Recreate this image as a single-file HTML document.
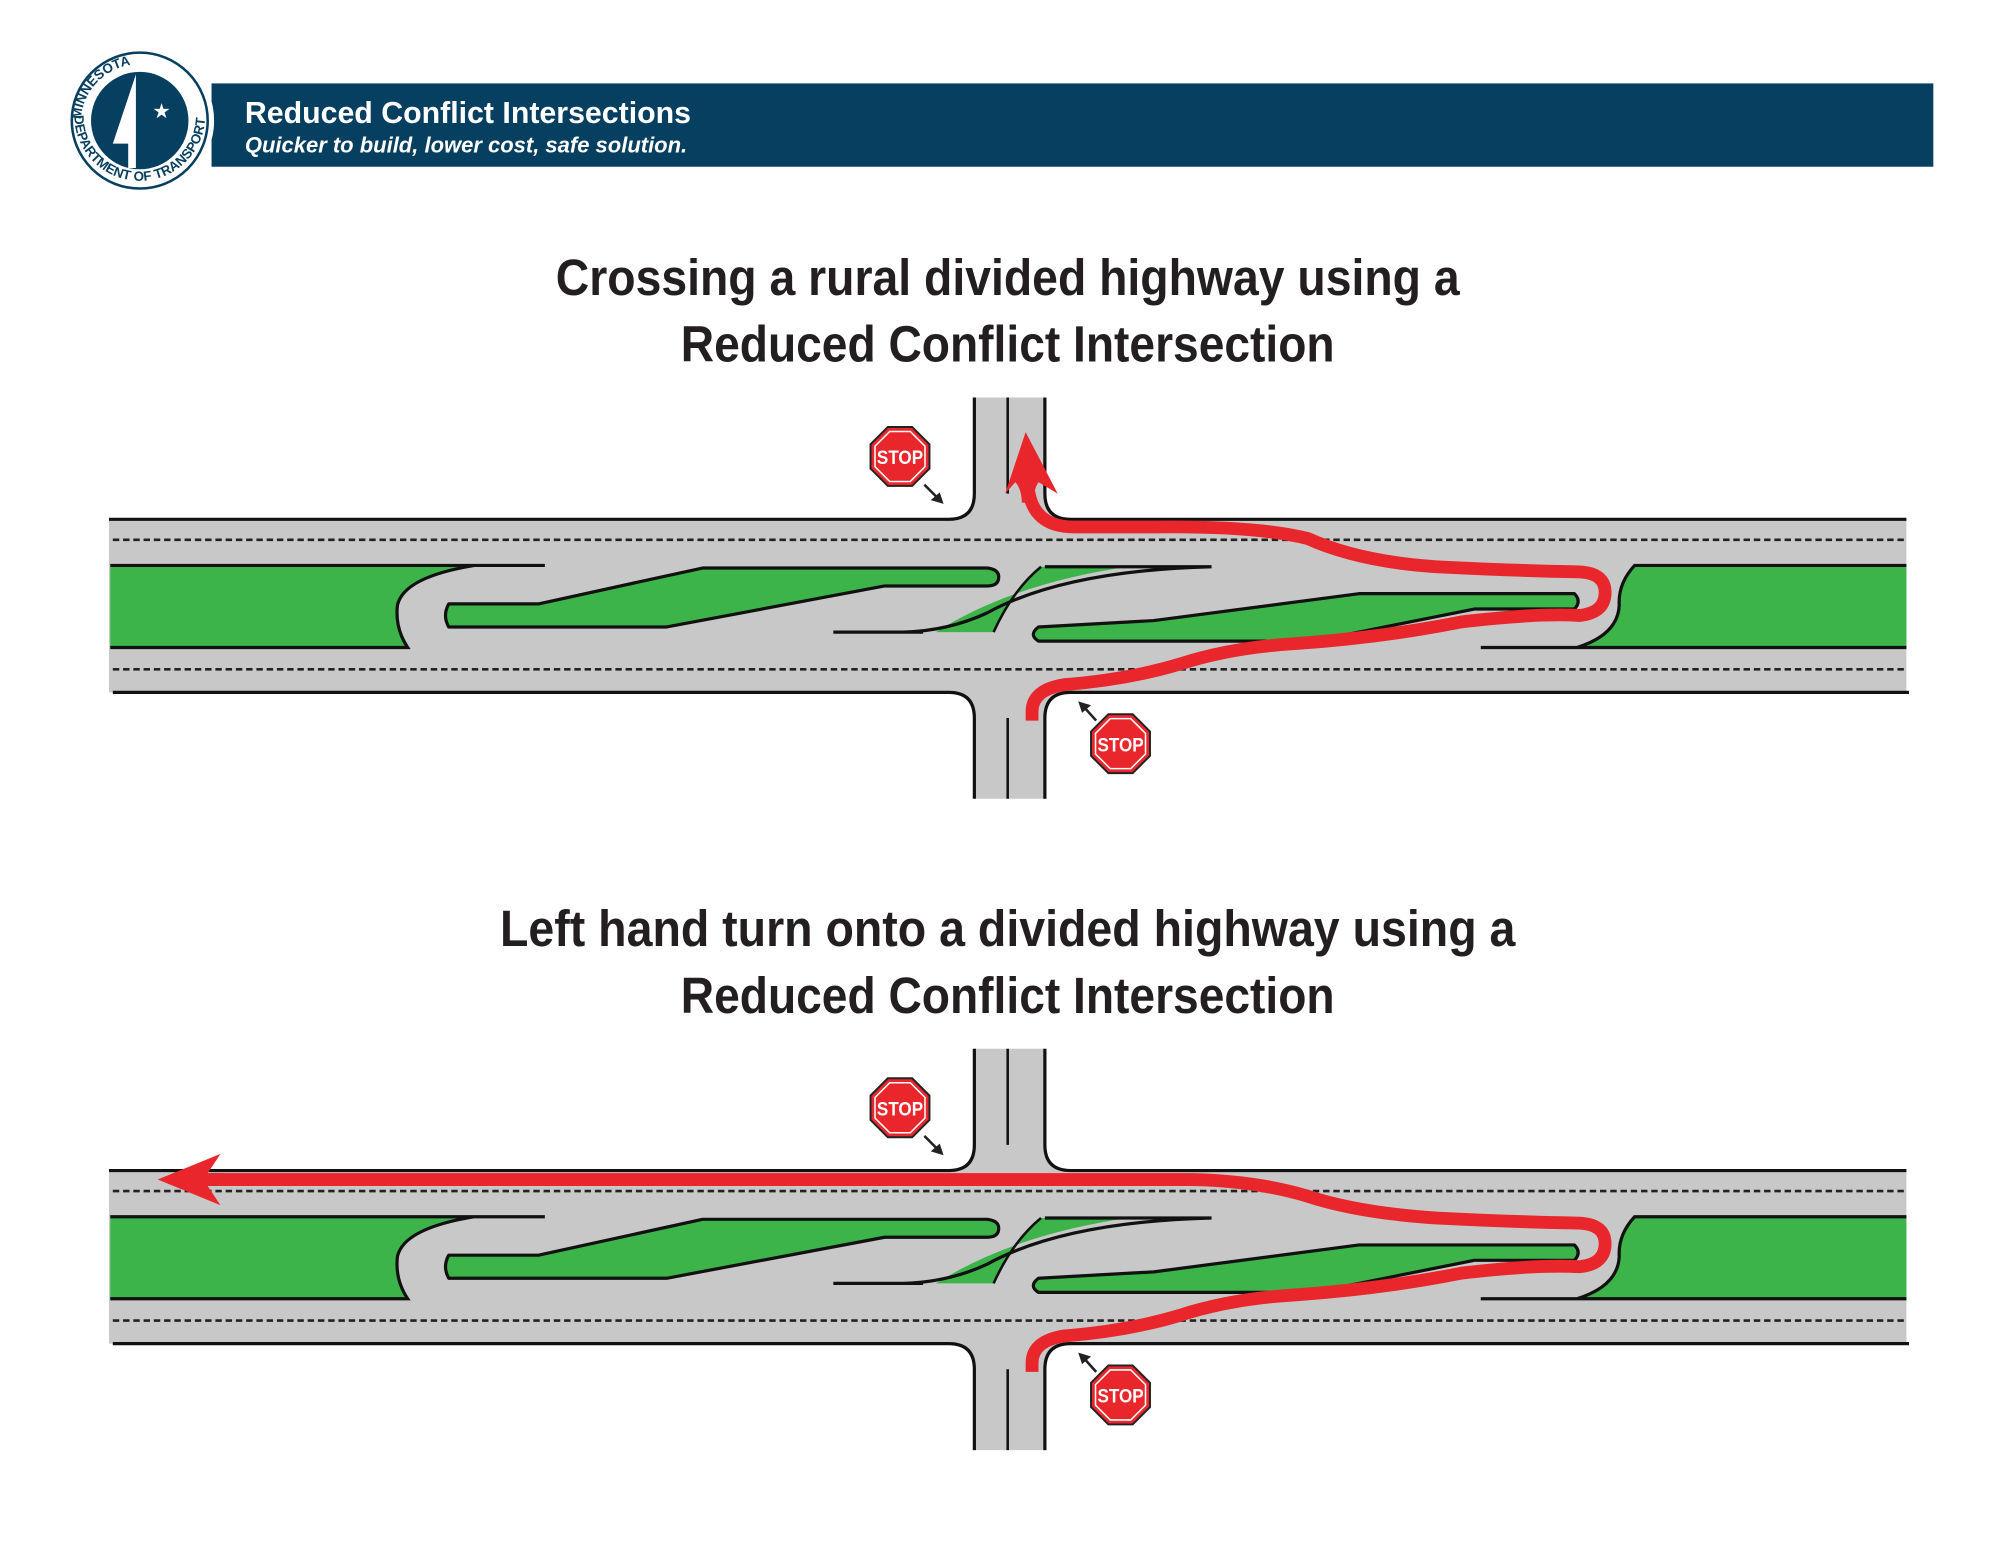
<!DOCTYPE html>
<html><head><meta charset="utf-8"><style>
html,body{margin:0;padding:0;background:#fff}
svg{display:block}
</style></head><body>
<svg width="2000" height="1545" viewBox="0 0 1560 1205" xmlns="http://www.w3.org/2000/svg" font-family="Liberation Sans, sans-serif">
<defs>
<path id="ringtop" d="M 63 96 A 46 46 0 0 1 155 96"/>
<path id="ringbot" d="M 58 90 A 51 51 0 0 0 160 90"/>
<g id="diagram">
  <!-- main road -->
  <rect x="85" y="405" width="1402" height="135" fill="#c8c8c8"/>
  <!-- cross road -->
  <path d="M760 310 L815 310 L815 385 Q815 405 835 405 L835 540 Q815 540 815 560 L815 623 L760 623 L760 560 Q760 540 740 540 L740 405 Q760 405 760 385 Z" fill="#c8c8c8"/>
  <!-- edges -->
  <path d="M85 405 L740 405 Q760 405 760 385 L760 310" fill="none" stroke="#111" stroke-width="2.5"/>
  <path d="M815 310 L815 385 Q815 405 835 405 L1487 405" fill="none" stroke="#111" stroke-width="2.5"/>
  <path d="M88 540 L740 540 Q760 540 760 560 L760 623" fill="none" stroke="#111" stroke-width="2.5"/>
  <path d="M815 623 L815 560 Q815 540 835 540 L1489 540" fill="none" stroke="#111" stroke-width="2.5"/>
  <line x1="786" y1="310" x2="786" y2="385" stroke="#111" stroke-width="2"/>
  <line x1="786" y1="560" x2="786" y2="623" stroke="#111" stroke-width="2"/>
  <!-- dashed -->
  <line x1="88" y1="421" x2="1487" y2="421" stroke="#222" stroke-width="2" stroke-dasharray="5 3"/>
  <line x1="88" y1="522" x2="1487" y2="522" stroke="#222" stroke-width="2" stroke-dasharray="5 3"/>
  <!-- left median -->
  <path d="M86 442 L370 442 Q315 450 310 472 Q308 490 318 505 L86 505 Z" fill="#3db44a"/>
  <path d="M86 441 L425 441 M370 441 Q315 450 310 472 Q308 490 318 505 L86 505" fill="none" stroke="#111" stroke-width="2.5"/>
  <!-- right median -->
  <path d="M1487 442 L1275 442 Q1262 455 1263 472 Q1262 495 1230 505 L1487 505 Z" fill="#3db44a"/>
  <path d="M1487 441 L1275 441 Q1262 455 1263 472 Q1262 495 1230 505 M1155 505 L1487 505" fill="none" stroke="#111" stroke-width="2.5"/>
  <!-- left island -->
  <path d="M350 471 L420 471 L548 443 L770 443 Q779 444 779 450 Q779 457 770 457 L690 457 L520 489 L350 489 Q345 480 350 471 Z" fill="#3db44a" stroke="#111" stroke-width="2.5" stroke-linejoin="round"/>
  <!-- center island -->
  <path d="M812 442 L880 442 Q790 455 730 493 L775 493 Q790 460 812 442 Z" fill="#3db44a"/>
  <path d="M815 442 L945 442 Q830 445 770 478 Q740 492 705 493 M650 493 L720 493" fill="none" stroke="#111" stroke-width="2.5"/>
  <path d="M775 493 Q790 460 812 442" fill="none" stroke="#111" stroke-width="2"/>
  <!-- right island -->
  <path d="M810 489 L900 484 L1060 463 L1228 463 Q1234 469 1228 475 L1150 475 L1025 500 L810 500 Q802 495 810 489 Z" fill="#3db44a" stroke="#111" stroke-width="2.5" stroke-linejoin="round"/>
  <!-- stop signs -->
  <g transform="translate(702,356)">
    <polygon points="-9.5,-23 9.5,-23 23,-9.5 23,9.5 9.5,23 -9.5,23 -23,9.5 -23,-9.5" fill="#e8262b" stroke="#222" stroke-width="1.5"/>
    <polygon points="-8,-19.5 8,-19.5 19.5,-8 19.5,8 8,19.5 -8,19.5 -19.5,8 -19.5,-8" fill="none" stroke="#fff" stroke-width="1.2"/>
    <text x="0" y="6" text-anchor="middle" font-size="15" font-weight="bold" fill="#fff" textLength="36" lengthAdjust="spacingAndGlyphs">STOP</text>
  </g>
  <g transform="translate(874,580)">
    <polygon points="-9.5,-23 9.5,-23 23,-9.5 23,9.5 9.5,23 -9.5,23 -23,9.5 -23,-9.5" fill="#e8262b" stroke="#222" stroke-width="1.5"/>
    <polygon points="-8,-19.5 8,-19.5 19.5,-8 19.5,8 8,19.5 -8,19.5 -19.5,8 -19.5,-8" fill="none" stroke="#fff" stroke-width="1.2"/>
    <text x="0" y="6" text-anchor="middle" font-size="15" font-weight="bold" fill="#fff" textLength="36" lengthAdjust="spacingAndGlyphs">STOP</text>
  </g>
  <line x1="721" y1="378" x2="731" y2="388" stroke="#222" stroke-width="2"/>
  <polygon points="736,393 726,390 733,384" fill="#222"/>
  <line x1="855" y1="562" x2="846" y2="552" stroke="#222" stroke-width="2"/>
  <polygon points="841,547 851,550 844,556" fill="#222"/>
</g>
</defs>

<!-- header -->
<rect x="165" y="65" width="1343" height="65" fill="#063f5f"/>
<circle cx="109" cy="94" r="58" fill="#fff"/>
<circle cx="109" cy="94" r="38" fill="#063f5f"/>
<circle cx="109" cy="94" r="53" fill="none" stroke="#063f5f" stroke-width="2"/>
<path d="M106 58 L106 131 L100 131 L100 112 L88 112 Z" fill="#fff"/>
<text x="126" y="92" text-anchor="middle" font-size="16" fill="#fff">★</text>
<text font-size="10.5" font-weight="bold" fill="#063f5f"><textPath href="#ringtop" startOffset="2%">MINNESOTA</textPath></text>
<text font-size="10.5" font-weight="bold" fill="#063f5f"><textPath href="#ringbot" startOffset="0%">DEPARTMENT OF TRANSPORTATION</textPath></text>
<text x="191" y="96" font-size="24" font-weight="bold" fill="#fff" textLength="348" lengthAdjust="spacingAndGlyphs">Reduced Conflict Intersections</text>
<text x="191" y="119" font-size="17" font-weight="bold" font-style="italic" fill="#fff" textLength="345" lengthAdjust="spacingAndGlyphs">Quicker to build, lower cost, safe solution.</text>

<!-- titles -->
<g font-size="40" font-weight="bold" fill="#231f20" text-anchor="middle">
<text x="786" y="230" textLength="705" lengthAdjust="spacingAndGlyphs">Crossing a rural divided highway using a</text>
<text x="786" y="282" textLength="510" lengthAdjust="spacingAndGlyphs">Reduced Conflict Intersection</text>
<text x="786" y="738" textLength="792" lengthAdjust="spacingAndGlyphs">Left hand turn onto a divided highway using a</text>
<text x="786" y="790" textLength="510" lengthAdjust="spacingAndGlyphs">Reduced Conflict Intersection</text>
</g>

<!-- diagram 1 -->
<use href="#diagram"/>
<path d="M805 562 L805 555 Q805 538 830 534 Q880 530 920 518 Q960 505 1010 502 Q1080 497 1140 485 Q1200 478 1232 480 Q1252 478 1252 462 Q1252 447 1232 446 Q1180 445 1120 442 Q1060 438 1020 420 Q980 410 900 411 L838 411 Q805 411 802 380" fill="none" stroke="#e8262b" stroke-width="10"/>
<path d="M800 337 L825 385 L810 376 Q806 382 806 392 L797 392 Q797 382 792 376 L784 385 Z" fill="#e8262b"/>

<!-- diagram 2 -->
<g transform="translate(0,508)">
<use href="#diagram"/>
<path d="M805 562 L805 555 Q805 538 830 534 Q880 530 920 518 Q960 505 1010 502 Q1080 497 1140 485 Q1200 478 1232 480 Q1252 478 1252 462 Q1252 447 1232 446 Q1180 445 1120 442 Q1060 438 1020 425 Q980 413 930 412 L165 412" fill="none" stroke="#e8262b" stroke-width="10"/>
<path d="M123 412 L172 392 L162 407 L175 407 L175 417 L162 417 L172 432 Z" fill="#e8262b"/>
</g>
</svg>
</body></html>
